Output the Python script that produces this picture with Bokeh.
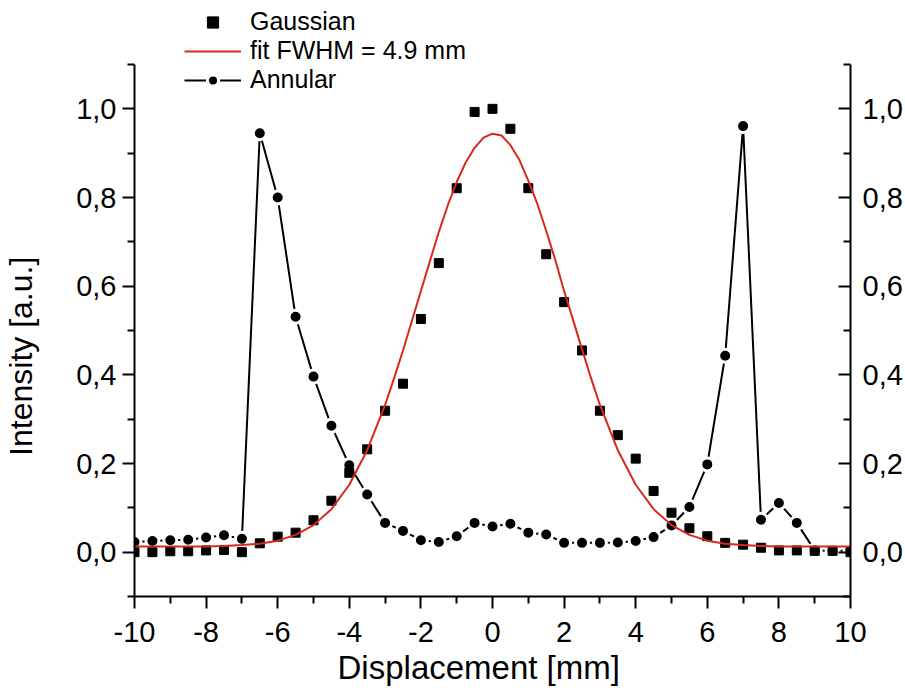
from bokeh.plotting import figure
from bokeh.models import (LinearAxis, FixedTicker, CustomJSTickFormatter, Range1d,
                          Legend, LegendItem)
from bokeh.embed import file_html
from bokeh.resources import INLINE

# ---------------- data ----------------
displacement = [-10, -9.5, -9, -8.5, -8, -7.5, -7, -6.5, -6, -5.5, -5, -4.5, -4, -3.5,
                -3, -2.5, -2, -1.5, -1, -0.5, 0, 0.5, 1, 1.5, 2, 2.5, 3, 3.5, 4, 4.5,
                5, 5.5, 6, 6.5, 7, 7.5, 8, 8.5, 9, 9.5, 10]

gaussian = [0.000, 0.000, 0.002, 0.002, 0.004, 0.005, 0.000, 0.020, 0.035, 0.044,
            0.072, 0.116, 0.179, 0.232, 0.319, 0.380, 0.526, 0.652, 0.821, 0.993,
            1.000, 0.955, 0.821, 0.672, 0.564, 0.455, 0.319, 0.264, 0.211, 0.138,
            0.089, 0.054, 0.036, 0.021, 0.017, 0.010, 0.004, 0.004, 0.003, 0.003,
            0.000]

annular = [0.023, 0.025, 0.027, 0.028, 0.033, 0.038, 0.030, 0.945, 0.800, 0.531,
           0.396, 0.285, 0.196, 0.130, 0.066, 0.048, 0.027, 0.023, 0.036, 0.066,
           0.058, 0.064, 0.044, 0.040, 0.021, 0.021, 0.021, 0.022, 0.025, 0.034,
           0.060, 0.102, 0.198, 0.443, 0.961, 0.073, 0.111, 0.066, 0.004, 0.003,
           0.003]

# fitted curve (denser where it bends most)
fit_x = [-10, -9.5, -9, -8.5, -8, -7.5, -7, -6.5, -6, -5.5, -5, -4.5, -4, -3.5,
         -3, -2.75, -2.5, -2.25, -2, -1.75, -1.5, -1.25, -1, -0.75, -0.5, -0.25,
         0, 0.25, 0.5, 0.75, 1, 1.25, 1.5, 1.75, 2, 2.25, 2.5, 2.75, 3, 3.5, 4,
         4.5, 5, 5.5, 6, 6.5, 7, 7.5, 8, 8.5, 9, 9.5, 10]
fit_fwhm = [0.013, 0.013, 0.013, 0.013, 0.013, 0.014, 0.016, 0.019, 0.026, 0.039,
            0.061, 0.097, 0.152, 0.230, 0.332, 0.392, 0.455, 0.522, 0.589, 0.656,
            0.722, 0.782, 0.835, 0.879, 0.912, 0.935, 0.944, 0.940, 0.918, 0.885,
            0.838, 0.786, 0.725, 0.660, 0.589, 0.524, 0.458, 0.393, 0.332, 0.230,
            0.152, 0.097, 0.061, 0.039, 0.026, 0.019, 0.016, 0.014, 0.013, 0.013,
            0.013, 0.013, 0.013]

x_major_ticks = [-10, -8, -6, -4, -2, 0, 2, 4, 6, 8, 10]
x_minor_ticks = [-9, -7, -5, -3, -1, 1, 3, 5, 7, 9]
y_major_ticks = [0.0, 0.2, 0.4, 0.6, 0.8, 1.0]
y_minor_ticks = [-0.1, 0.1, 0.3, 0.5, 0.7, 0.9, 1.1]
y_axis_bounds = (-0.1, 1.1)

legend_labels = ["Gaussian", "fit FWHM = 4.9 mm", "Annular"]
x_title = "Displacement [mm]"
y_title = "Intensity [a.u.]"

# ---------------- figure ----------------
TEXT_FONT = "Liberation Sans"
NBSP = "\u00a0"

# The frame reaches the top of the canvas so that the legend (which overlaps
# the top of the plot) is not clipped; the axes stop at 1.1 through bounds.
FRAME_TOP_GAP = 64          # px between canvas top and the 1.1 level
PLOT_H = 532                # px from -0.1 to 1.1
y_top = y_axis_bounds[1] + FRAME_TOP_GAP * (y_axis_bounds[1] - y_axis_bounds[0]) / PLOT_H

p = figure(width=905, height=691, output_backend="svg", toolbar_location=None,
           x_range=Range1d(-10, 10), y_range=Range1d(y_axis_bounds[0], y_top),
           x_axis_location=None, y_axis_location=None,
           min_border_left=131, min_border_right=53, min_border_top=0,
           min_border_bottom=95)
p.outline_line_color = None
p.grid.visible = False
p.background_fill_color = "white"
p.border_fill_color = "white"

yfmt = CustomJSTickFormatter(code="return tick.toFixed(1).replace('.', ',');")
xfmt = CustomJSTickFormatter(code="return tick.toFixed(0);")


def style_axis(ax, outward=True):
    ax.axis_line_width = 2
    ax.axis_line_color = "black"
    ax.major_tick_line_width = 2
    ax.minor_tick_line_width = 2
    ax.major_tick_line_color = "black"
    ax.minor_tick_line_color = "black"
    if outward:
        ax.major_tick_out = 12
        ax.major_tick_in = 0
        ax.minor_tick_out = 7
        ax.minor_tick_in = 0
    else:
        ax.major_tick_out = 0
        ax.major_tick_in = 12
        ax.minor_tick_out = 0
        ax.minor_tick_in = 7
    ax.major_label_text_font = TEXT_FONT
    ax.major_label_text_font_size = "29px"
    ax.major_label_text_color = "black"
    ax.axis_label_text_font = TEXT_FONT
    ax.axis_label_text_font_style = "normal"
    ax.axis_label_text_color = "black"


xaxis = LinearAxis(ticker=FixedTicker(ticks=x_major_ticks, minor_ticks=x_minor_ticks),
                   formatter=xfmt)
style_axis(xaxis)
xaxis.major_label_standoff = 13
xaxis.axis_label = x_title + NBSP * 3
xaxis.axis_label_text_font_size = "33px"
xaxis.axis_label_standoff = 4
p.add_layout(xaxis, "below")

yaxis = LinearAxis(ticker=FixedTicker(ticks=y_major_ticks, minor_ticks=y_minor_ticks),
                   formatter=yfmt, bounds=y_axis_bounds)
style_axis(yaxis)
yaxis.major_label_standoff = 6
yaxis.axis_label = y_title + NBSP * 13
yaxis.axis_label_text_font_size = "32px"
yaxis.axis_label_standoff = 34
p.add_layout(yaxis, "left")

yaxis2 = LinearAxis(ticker=FixedTicker(ticks=y_major_ticks, minor_ticks=y_minor_ticks),
                    formatter=yfmt, bounds=y_axis_bounds)
style_axis(yaxis2, outward=False)
yaxis2.major_label_standoff = 12
p.add_layout(yaxis2, "right")

# ---------------- data renderers ----------------
ann_line = p.line(displacement, annular, line_color="black", line_width=2)
ann_pts = p.scatter(displacement, annular, marker="circle", size=13,
                    fill_color="black", line_color="white", line_width=3)
gau_pts = p.scatter(displacement, gaussian, marker="square", size=9,
                    fill_color="black", line_color="black", line_width=1)
fit_line = p.line(fit_x, fit_fwhm, line_color="#d8281c", line_width=2)

# ---------------- legend ----------------
legend = Legend(items=[
    LegendItem(label=legend_labels[0], renderers=[gau_pts]),
    LegendItem(label=legend_labels[1], renderers=[fit_line]),
    LegendItem(label=legend_labels[2], renderers=[ann_line, ann_pts]),
], location=(50, 502))
legend.padding = 0
legend.margin = 0
legend.spacing = 0
legend.glyph_width = 57
legend.glyph_height = 28
legend.label_height = 28
legend.label_standoff = 9
legend.border_line_alpha = 0
legend.background_fill_alpha = 0
legend.label_text_font = TEXT_FONT
legend.label_text_font_size = "25px"
legend.label_text_color = "black"
p.add_layout(legend, "center")

open("out.html", "w").write(file_html(p, INLINE))
